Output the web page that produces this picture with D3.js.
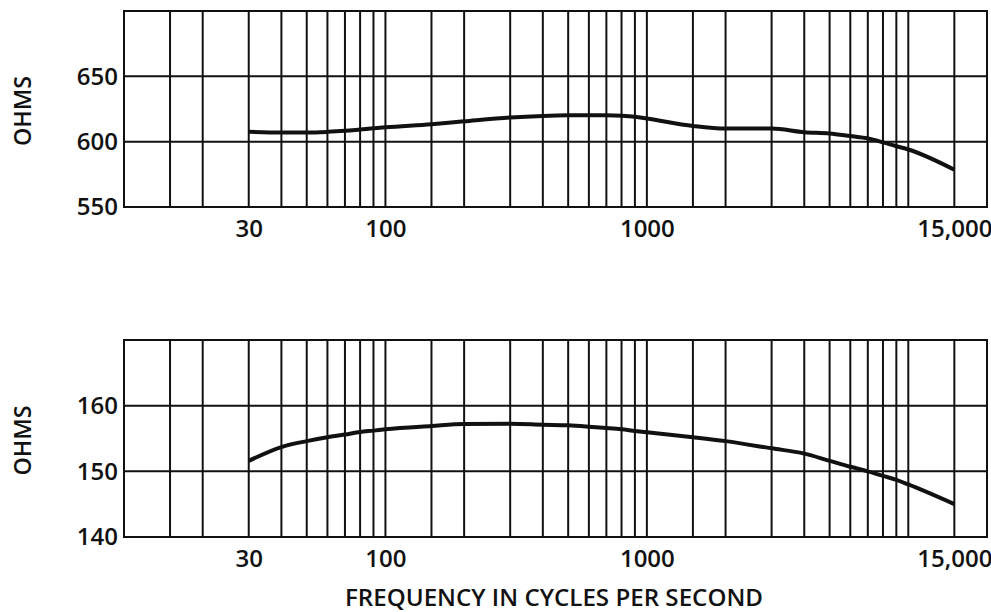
<!DOCTYPE html>
<html>
<head>
<meta charset="utf-8">
<script src="https://cdn.jsdelivr.net/npm/d3@7"></script>
<style>
  body { margin: 0; background: #fff; }
  svg text { font-family: "Open Sans", "DejaVu Sans", sans-serif; font-weight: 600; fill: #111; }
</style>
</head>
<body>
<div id="chart"></div>
<script>
var freqs = [30, 40, 50, 60, 70, 80, 90, 100, 150, 200, 300, 400, 500, 600, 700, 800, 900,
             1000, 1500, 2000, 3000, 4000, 5000, 6000, 7000, 8000, 9000, 10000, 15000];

var upperOhms = [607.5, 607, 607, 607.5, 608.3, 609.3, 610.2, 611, 613.4, 615.6, 618.5, 619.7, 620.2,
                 620.3, 620.2, 619.8, 619, 617.7, 612, 610, 610, 607.2, 606.3, 604.3, 602.5, 599.5,
                 596.5, 594, 578.5];

var lowerOhms = [151.6, 153.7, 154.6, 155.2, 155.6, 156, 156.2, 156.4, 156.9, 157.2, 157.25, 157.1, 157,
                 156.8, 156.6, 156.4, 156.15, 155.95, 155.2, 154.6, 153.5, 152.7, 151.6, 150.7, 150,
                 149.3, 148.7, 148, 145];

// vertical rulings of the log paper
var gridFreqs = [15, 20, 30, 40, 50, 60, 70, 80, 90, 100, 150, 200, 300, 400, 500, 600, 700, 800, 900,
                 1000, 1500, 2000, 3000, 4000, 5000, 6000, 7000, 8000, 9000, 10000, 15000];

var xTickValues = [30, 100, 1000, 15000];
var xTickLabels = ["30", "100", "1000", "15,000"];

var upperTicks = [550, 600, 650];
var lowerTicks = [140, 150, 160];

var width = 991, height = 612;

var svg = d3.select("#chart").append("svg")
    .attr("width", width)
    .attr("height", height);

var x = d3.scaleLog().domain([10, 20000]).range([124, 987]);

var panels = [
    { values: upperOhms, ticks: upperTicks, domain: [550, 700], top: 11, bottom: 207 },
    { values: lowerOhms, ticks: lowerTicks, domain: [140, 170], top: 340, bottom: 537 }
];

panels.forEach(function(p) {
    var y = d3.scaleLinear().domain(p.domain).range([p.bottom, p.top]);
    var g = svg.append("g");

    // vertical grid
    g.selectAll(".vgrid")
        .data(gridFreqs)
        .enter().append("line")
        .attr("class", "vgrid")
        .attr("x1", function(d) { return x(d); })
        .attr("x2", function(d) { return x(d); })
        .attr("y1", p.top)
        .attr("y2", p.bottom)
        .attr("stroke", "#111")
        .attr("stroke-width", 2);

    // horizontal grid (inner ticks only)
    g.selectAll(".hgrid")
        .data(p.ticks.slice(1))
        .enter().append("line")
        .attr("class", "hgrid")
        .attr("x1", x.range()[0])
        .attr("x2", x.range()[1])
        .attr("y1", function(d) { return y(d); })
        .attr("y2", function(d) { return y(d); })
        .attr("stroke", "#111")
        .attr("stroke-width", 2);

    g.append("rect")
        .attr("x", x.range()[0])
        .attr("y", p.top)
        .attr("width", x.range()[1] - x.range()[0])
        .attr("height", p.bottom - p.top)
        .attr("fill", "none")
        .attr("stroke", "#111")
        .attr("stroke-width", 2);

    var line = d3.line()
        .x(function(d, i) { return x(freqs[i]); })
        .y(function(d) { return y(d); })
        .curve(d3.curveMonotoneX);

    g.append("path")
        .datum(p.values)
        .attr("d", line)
        .attr("fill", "none")
        .attr("stroke", "#111")
        .attr("stroke-width", 4)
        .attr("stroke-linejoin", "round");

    var yAxis = g.append("g")
        .attr("transform", "translate(" + x.range()[0] + ",0)")
        .call(d3.axisLeft(y).tickValues(p.ticks).tickSize(0).tickPadding(6));
    yAxis.select(".domain").remove();
    yAxis.selectAll("text")
        .style("font-size", "24px")
        .attr("dy", "0.32em");

    var xAxis = g.append("g")
        .attr("transform", "translate(0," + p.bottom + ")")
        .call(d3.axisBottom(x).tickValues(xTickValues)
            .tickFormat(function(d, i) { return xTickLabels[i]; })
            .tickSize(0).tickPadding(13));
    xAxis.select(".domain").remove();
    xAxis.selectAll("text")
        .style("font-size", "24px");

    svg.append("text")
        .attr("transform", "translate(31," + ((p.top + p.bottom) / 2 + 2) + ") rotate(-90)")
        .attr("text-anchor", "middle")
        .attr("textLength", 70)
        .attr("lengthAdjust", "spacingAndGlyphs")
        .style("font-size", "24px")
        .text("OHMS");
});

svg.append("text")
    .attr("x", 554)
    .attr("y", 606)
    .attr("text-anchor", "middle")
    .attr("textLength", 418)
    .attr("lengthAdjust", "spacingAndGlyphs")
    .style("font-size", "23px")
    .text("FREQUENCY IN CYCLES PER SECOND");
</script>
</body>
</html>
